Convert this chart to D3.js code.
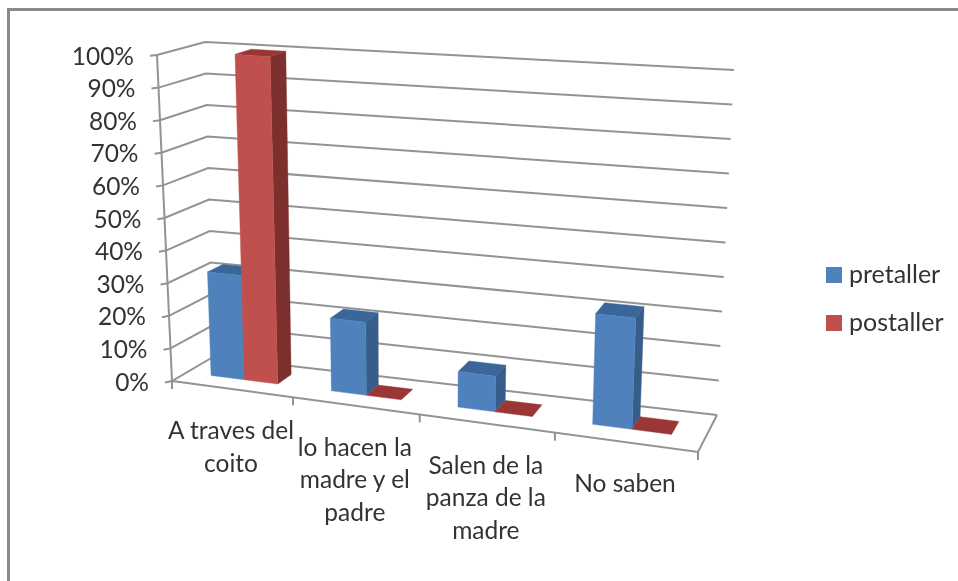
<!DOCTYPE html>
<html lang="es">

<head>
    <meta charset="UTF-8">
    <title>pretaller postaller</title>
    <script src="https://d3js.org/d3.v7.min.js"></script>
    <style>
        html, body {
            margin: 0;
            padding: 0;
            background: #fff;
            overflow: hidden;
        }

        svg {
            display: block;
            filter: blur(0.5px);
        }

        text {
            font-family: Lato, "Open Sans", sans-serif;
            fill: #333;
        }
    </style>
</head>

<body>
    <div id="chart"></div>

    <script>
        // values
        const categories = ["A traves del", "lo hacen la", "Salen de la", "No saben"];
        const categoryLines = [
            ["A traves del", "coito"],
            ["lo hacen la", "madre y el", "padre"],
            ["Salen de la", "panza de la", "madre"],
            ["No saben"]
        ];
        const seriesNames = ["pretaller", "postaller"];
        const pretaller = [0.32, 0.22, 0.105, 0.32];
        const postaller = [1, 0, 0, 0];
        const yTicks = [0, 0.1, 0.2, 0.3, 0.4, 0.5, 0.6, 0.7, 0.8, 0.9, 1];

        const width = 958, height = 581;

        const colors = {
            pretaller: { front: "#4f81bd", side: "#375d8b", top: "#3b669a" },
            postaller: { front: "#c0504d", side: "#7d2f2d", top: "#9a3735" }
        };
        const gridColor = "#939393";

        // corners of the box on screen: front-left, front-right, back-right, back-left
        const floorQuad = [[172, 381], [698, 452], [717, 415], [213, 357]];
        const topQuad = [[157, 55], [712, 96], [734, 70], [205, 42]];

        function mix(a, b, t) {
            return [a[0] + (b[0] - a[0]) * t, a[1] + (b[1] - a[1]) * t];
        }

        function quadPoint(q, u, w) {
            return mix(mix(q[0], q[1], u), mix(q[3], q[2], u), w);
        }

        const yScale = d3.scaleLinear().domain([0, 1]).range([0, 1]);
        // the categories get slightly wider towards the viewer
        const uScale = d3.scaleLinear().domain([0, 0.25, 0.5, 0.75, 1]).range([0, 0.23, 0.471, 0.728, 1]);

        // u along the categories, w into the depth, v up the value axis
        function project(u, w, v) {
            let t = uScale(u);
            return mix(quadPoint(floorQuad, t, w), quadPoint(topQuad, t, w), yScale(v));
        }

        const x0 = d3.scaleBand().domain(categories).range([-0.004, 0.996]).paddingInner(0.44).paddingOuter(0.22);
        const x1 = d3.scaleBand().domain(seriesNames).range([0, x0.bandwidth()]);
        const depth = d3.scaleLinear().domain([0, 1]).range([0.36, 0.72]);
        const line = d3.line();

        const svg = d3.select("#chart").append("svg")
            .attr("width", width)
            .attr("height", height);

        // frame
        svg.append("path")
            .attr("d", line([[8.5, height], [8.5, 9.5], [width, 9.5]]))
            .attr("fill", "none")
            .attr("stroke", "#8a8a8a")
            .attr("stroke-width", 3);

        // walls and floor
        let grid = svg.append("g")
            .attr("fill", "none")
            .attr("stroke", gridColor)
            .attr("stroke-width", 2);

        yTicks.forEach(function (t) {
            let fl = project(0, 0, t), bl = project(0, 1, t), br = project(1, 1, t);
            let dx = fl[0] - bl[0], dy = fl[1] - bl[1], n = Math.hypot(dx, dy);
            let tick = [fl[0] - 7, fl[1] + dy / n * 3];
            grid.append("path").attr("d", line([tick, fl, bl, br]));

            svg.append("text")
                .attr("x", fl[0] - 23)
                .attr("y", fl[1] + 1)
                .attr("dy", "0.35em")
                .attr("text-anchor", "end")
                .style("font-size", "24.5px")
                .text(d3.format(".0%")(t));
        });

        grid.append("path").attr("d", line([project(0, 0, 0), project(0, 0, 1)]));
        grid.append("path").attr("d", line([project(0, 0, 0), project(1, 0, 0), project(1, 1, 0)]));

        // category ticks and labels
        d3.range(categories.length + 1).forEach(function (i) {
            let p = project(i / categories.length, 0, 0);
            grid.append("path").attr("d", line([p, [p[0], p[1] + 8]]));
        });

        categories.forEach(function (c, i) {
            let p = project((i + 0.5) / categories.length, 0, 0);
            svg.append("text")
                .attr("text-anchor", "middle")
                .style("font-size", "24.5px")
                .selectAll("tspan")
                .data(categoryLines[i])
                .enter().append("tspan")
                .attr("x", p[0] - 1.5)
                .attr("y", function (d, k) { return p[1] + 50 + k * 32.5; })
                .text(function (d) { return d; });
        });

        // bars
        function face(points, fill) {
            svg.append("path")
                .attr("d", line(points) + "Z")
                .attr("fill", fill)
                .attr("stroke", fill)
                .attr("stroke-width", 0.4);
        }

        function drawBar(category, name, value) {
            let c = colors[name];
            let u0 = x0(category) + x1(name);
            let u1 = u0 + x1.bandwidth();
            let w0 = depth(0), w1 = depth(1);
            face([project(u0, w0, value), project(u1, w0, value), project(u1, w1, value), project(u0, w1, value)], c.top);
            if (value > 0) {
                face([project(u1, w0, 0), project(u1, w1, 0), project(u1, w1, value), project(u1, w0, value)], c.side);
                face([project(u0, w0, 0), project(u1, w0, 0), project(u1, w0, value), project(u0, w0, value)], c.front);
            }
        }

        categories.forEach(function (c, i) {
            drawBar(c, "pretaller", pretaller[i]);
            drawBar(c, "postaller", postaller[i]);
        });

        // legend
        const legendY = d3.scalePoint().domain(seriesNames).range([275, 323]);

        seriesNames.forEach(function (name) {
            svg.append("rect")
                .attr("x", 826)
                .attr("y", legendY(name) - 8)
                .attr("width", 16)
                .attr("height", 16)
                .attr("fill", colors[name].front);
            svg.append("text")
                .attr("x", 849)
                .attr("y", legendY(name))
                .attr("dy", "0.33em")
                .style("font-size", "25px")
                .text(name);
        });
    </script>
</body>

</html>
